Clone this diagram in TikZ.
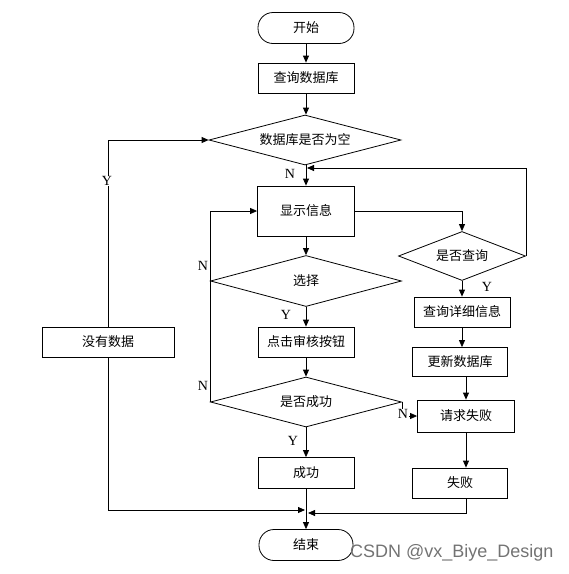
\documentclass[tikz,border=0pt]{standalone}
\usepackage{fontspec}
\setmainfont{Liberation Serif}
\newfontfamily\cjk{Noto Sans CJK SC}
\newfontfamily\wmfont{Liberation Sans}
\usetikzlibrary{shapes.geometric,arrows.meta}
\begin{document}
\begin{tikzpicture}[x=1pt,y=-1pt,
  every node/.style={font=\cjk\fontsize{13}{15}\selectfont},
  box/.style={draw,line width=0.8pt,rectangle,inner sep=0pt,minimum width=96pt,minimum height=30pt},
  term/.style={draw,line width=0.8pt,rectangle,rounded corners=15pt,inner sep=0pt,minimum width=96pt,minimum height=31pt},
  dia/.style={draw,line width=0.8pt,diamond,inner sep=0pt,aspect=3.8,minimum width=191pt,minimum height=50pt},
  arr/.style={line width=0.8pt,-{Triangle[length=7pt,width=6pt]}},
  ln/.style={line width=0.8pt},
  lbl/.style={font=\rmfamily\fontsize{14}{16}\selectfont,inner sep=0.5pt}]
\useasboundingbox (0,0) rectangle (569,574);
% nodes
\node[term] (start) at (306,28) {开始};
\node[box] (q1) at (306,78) {查询数据库};
\node[dia,minimum width=192pt] (d1) at (305,140) {数据库是否为空};
\node[box,minimum width=97pt,minimum height=50pt] (show) at (306,211) {显示信息};
\node[dia,minimum height=51pt] (d2) at (306,281) {选择};
\node[box] (click) at (306,342) {点击审核按钮};
\node[dia] (d3) at (306,402) {是否成功};
\node[box,minimum height=31pt] (succ) at (306,473) {成功};
\node[term,minimum width=94pt] (end) at (306,545) {结束};
\node[box,minimum width=132pt] (nodata) at (108,342) {没有数据};
\node[dia,aspect=2.6,minimum width=127pt,minimum height=49pt] (dq) at (462,256) {是否查询};
\node[box] (detail) at (462,312) {查询详细信息};
\node[box,minimum width=95pt,minimum height=29pt] (update) at (460,362) {更新数据库};
\node[box,minimum width=97pt,minimum height=32pt] (fail1) at (466,416) {请求失败};
\node[box,minimum width=95pt] (fail2) at (460,483) {失败};
% helper coordinates
\coordinate (m1) at (307,168);
\coordinate (m2) at (305,510);
\coordinate (m3) at (308,513);
\coordinate (rc) at (466,0);
% connectors
\draw[arr] (start) -- (q1);
\draw[arr] (q1) -- (q1.south |- d1.north);
\draw[arr] (d1.south -| show.north) -- (show.north);
\draw[arr] (dq.east) |- (m1);
\draw[arr] (show.east) -| (dq.north);
\draw[arr] (show) -- (d2);
\draw[arr] (d2) -- (click);
\draw[arr] (click) -- (d3);
\draw[arr] (d3) -- (succ);
\draw[arr] (succ) -- (end);
\draw[arr] (d3.west) |- (show.west);
\draw[arr] (d3.east) |- (fail1.west);
\draw[arr] (dq.south -| detail.south) -- (detail.north);
\draw[arr] (detail.south) -- (detail.south |- update.north);
\draw[arr] (update.south -| rc) -- (fail1.north -| rc);
\draw[arr] (fail1.south -| rc) -- (fail2.north -| rc);
\draw[arr] (fail2.south -| rc) |- (m3);
\draw[arr] (nodata.north) |- (d1.west);
\draw[arr] (nodata.south) |- (m2);
% labels
\node[lbl] (lN1) at (290,174) {N};
\node[lbl] (lY1) at (487,287) {Y};
\node[lbl] (lY2) at (286,315) {Y};
\node[lbl] (lY3) at (293,441) {Y};
\node[lbl] (lN2) at (203,266) {N};
\node[lbl] (lN3) at (203,386) {N};
\node[lbl,fill=white] (lN4) at (403,414) {N};
\node[lbl,fill=white] (lY4) at (107,181) {Y};
% watermark
\node[font=\wmfont\fontsize{18}{20}\selectfont,text=black!55,anchor=west,inner sep=0pt] (wm) at (350,553) {CSDN @vx\_Biye\_Design};
\end{tikzpicture}
\end{document}
